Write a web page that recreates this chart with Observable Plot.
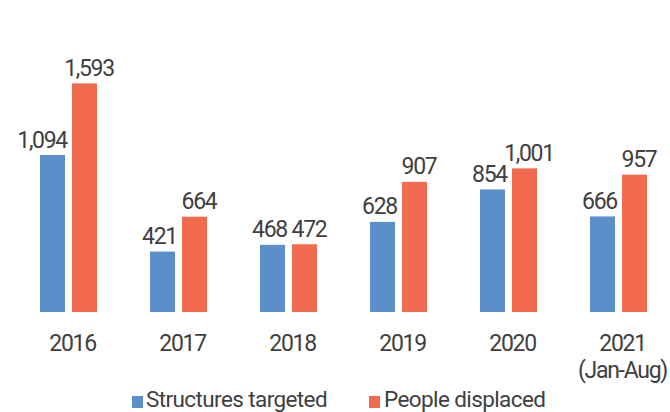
<!DOCTYPE html>
<html>
<head>
<meta charset="utf-8">
<script src="https://cdn.jsdelivr.net/npm/d3@7"></script>
<script src="https://cdn.jsdelivr.net/npm/@observablehq/plot@0.6"></script>
<style>
  html, body { margin: 0; padding: 0; background: #fff; }
  #wrap { position: relative; width: 670px; height: 412px; overflow: hidden; font-family: Roboto, sans-serif; }
  .leg { position: absolute; top: 386px; font-size: 22.5px; letter-spacing: -0.6px; color: #404040; line-height: 27px; white-space: nowrap; }
  .sw { position: absolute; width: 11px; height: 12px; top: 396px; }
</style>
</head>
<body>
<div id="wrap"></div>
<script>
const years = ["2016", "2017", "2018", "2019", "2020", "2021"];
const yearLabels = ["2016", "2017", "2018", "2019", "2020", "2021\n(Jan-Aug)"];
const structures = [1094, 421, 468, 628, 854, 666];
const people = [1593, 664, 472, 907, 1001, 957];
const seriesNames = ["Structures targeted", "People displaced"];
const colors = ["#5a8fcc", "#f26a4f"];

const blue = years.map((y, i) => ({year: y, value: structures[i]}));
const orange = years.map((y, i) => ({year: y, value: people[i]}));
const labels = years.map((y, i) => ({year: y, label: yearLabels[i]}));

const fmt = d3.format(",");

const chart = Plot.plot({
  width: 670,
  height: 385,
  marginTop: 0, marginBottom: 0, marginLeft: 0, marginRight: 0,
  style: {fontFamily: "Roboto, sans-serif", fontSize: "23px", color: "#404040", background: "#fff"},
  x: {domain: years, range: [13.5, 673.5], paddingInner: 0.7727, paddingOuter: 0.386, axis: null},
  y: {domain: [0, 2000], range: [312, 25], axis: null},
  marks: [
    Plot.barY(blue, {x: "year", y: "value", dx: -16, fill: colors[0]}),
    Plot.barY(orange, {x: "year", y: "value", dx: 16, fill: colors[1]}),
    Plot.text(blue, {x: "year", y: "value", text: d => fmt(d.value), dx: -2, dy: -8, textAnchor: "end", lineAnchor: "bottom", fill: "#404040", fontSize: 23}),
    Plot.text(orange, {x: "year", y: "value", text: d => fmt(d.value), dx: 20, dy: -8, textAnchor: "middle", lineAnchor: "bottom", fill: "#404040", fontSize: 23}),
    Plot.text(labels, {x: "year", y: () => 0, text: "label", dx: 3.5, dy: 19, lineAnchor: "top", lineHeight: 1.17, fill: "#404040", fontSize: 23})
  ]
});
chart.querySelectorAll("text").forEach(t => t.style.letterSpacing = "-1.3px");
const wrap = document.getElementById("wrap");
wrap.appendChild(chart);

const legendPos = [{sw: 132, tx: 146}, {sw: 369, tx: 384}];
seriesNames.forEach((name, i) => {
  const s = document.createElement("div");
  s.className = "sw";
  s.style.left = legendPos[i].sw + "px";
  s.style.background = colors[i];
  wrap.appendChild(s);
  const t = document.createElement("div");
  t.className = "leg";
  t.style.left = legendPos[i].tx + "px";
  t.textContent = name;
  wrap.appendChild(t);
});
</script>
</body>
</html>
